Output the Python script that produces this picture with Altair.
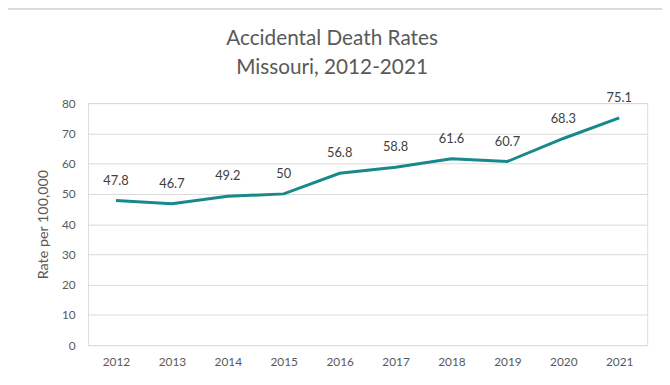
import altair as alt
import pandas as pd

years = ["2012", "2013", "2014", "2015", "2016", "2017", "2018", "2019", "2020", "2021"]
rates = [47.8, 46.7, 49.2, 50, 56.8, 58.8, 61.6, 60.7, 68.3, 75.1]
labels = ["47.8", "46.7", "49.2", "50", "56.8", "58.8", "61.6", "60.7", "68.3", "75.1"]

df = pd.DataFrame({"year": years, "rate": rates, "label": labels})

W, H = 566, 245
FONT = "Lato"

x = alt.X("year:O", title=None, sort=years,
          scale=alt.Scale(paddingInner=0, paddingOuter=0.5),
          axis=alt.Axis(labelAngle=0, ticks=False, domain=False, grid=False,
                        labelFont=FONT, labelFontSize=12, labelColor="#595959", labelPadding=12))
y = alt.Y("rate:Q", title="Rate per 100,000",
          scale=alt.Scale(domain=[0, 80]),
          axis=alt.Axis(values=[0, 10, 20, 30, 40, 50, 60, 70, 80], ticks=False, domain=False,
                        gridColor="#d9d9d9", gridWidth=1,
                        labelFont=FONT, labelFontSize=12, labelColor="#595959", labelPadding=13,
                        titleFont=FONT, titleFontSize=14.5, titleFontWeight="normal",
                        titleColor="#595959", titlePadding=11))

base = alt.Chart(df)

border = base.mark_rect(fill=None, stroke="#d9d9d9", strokeWidth=2).encode(
    x=alt.value(-82), x2=alt.value(W + 40), y=alt.value(-96), y2=alt.value(H + 60)
)

line = base.mark_line(color="#17898b", strokeWidth=3).encode(x=x, y=y)
text = base.mark_text(dy=-20, font=FONT, fontSize=13, color="#404040").encode(
    x=x, y=y, text="label:N"
)

chart = alt.layer(border, line, text).properties(
    width=W, height=H,
    title=alt.TitleParams(["Accidental Death Rates", "Missouri, 2012-2021"],
                          font=FONT, fontSize=21, fontWeight="normal", color="#595959",
                          anchor="middle", dx=-36, dy=90, lineHeight=30, offset=18),
    autosize=alt.AutoSizeParams(type="none"),
    padding={"left": 81, "top": 94, "right": 15, "bottom": 30},
).configure_view(stroke=None).configure(background="white")

chart.save("out.html", embed_options={"renderer": "svg", "actions": False})
